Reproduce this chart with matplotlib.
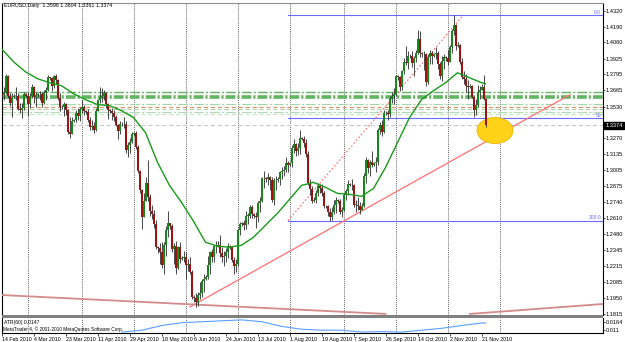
import datetime as dt
import numpy as np
import matplotlib
matplotlib.use("Agg")
import matplotlib.pyplot as plt
import matplotlib.transforms as mtrans
from matplotlib.patches import Ellipse, Rectangle

plt.rcParams["lines.scale_dashes"] = False
plt.rcParams["font.family"] = ["Liberation Sans", "DejaVu Sans"]

# EURUSD daily, broker with Sunday bars: Sun..Fri, 14 Feb 2010 -> 23 Nov 2010
FIRST_DAY = dt.date(2010, 2, 14)
FIRST_OPEN = 1.3630

closes = [
    1.3622, 1.3645, 1.3785, 1.3620, 1.3560, 1.3610,
    1.3615, 1.3620, 1.3510, 1.3500, 1.3520, 1.3630,
    1.3620, 1.3550, 1.3620, 1.3690, 1.3610, 1.3625,
    1.3630, 1.3630, 1.3560, 1.3645, 1.3670, 1.3770,
    1.3765, 1.3700, 1.3780, 1.3750, 1.3600, 1.3530,
    1.3525, 1.3550, 1.3500, 1.3320, 1.3300, 1.3410,
    1.3415, 1.3480, 1.3450, 1.3510, 1.3530, 1.3490,
    1.3485, 1.3420, 1.3360, 1.3370, 1.3340, 1.3490,
    1.3580, 1.3610, 1.3620, 1.3640, 1.3550, 1.3500,
    1.3495, 1.3480, 1.3440, 1.3380, 1.3330, 1.3390,
    1.3385, 1.3390, 1.3170, 1.3210, 1.3240, 1.3300,
    1.3310, 1.3200, 1.3000, 1.2840, 1.2620, 1.2750,
    1.2900, 1.2780, 1.2670, 1.2640, 1.2560, 1.2370,
    1.2360, 1.2330, 1.2220, 1.2390, 1.2510, 1.2570,
    1.2540, 1.2350, 1.2380, 1.2200, 1.2370, 1.2270,
    1.2280, 1.2290, 1.2220, 1.2230, 1.2160, 1.1960,
    1.1950, 1.1920, 1.1970, 1.1990, 1.2090, 1.2110,
    1.2120, 1.2220, 1.2330, 1.2290, 1.2380, 1.2380,
    1.2390, 1.2320, 1.2290, 1.2300, 1.2330, 1.2380,
    1.2370, 1.2260, 1.2210, 1.2230, 1.2510, 1.2560,
    1.2565, 1.2550, 1.2630, 1.2630, 1.2700, 1.2640,
    1.2630, 1.2620, 1.2730, 1.2750, 1.2940, 1.2940,
    1.2935, 1.2950, 1.2920, 1.2760, 1.2920, 1.2920,
    1.2930, 1.2990, 1.3000, 1.3010, 1.3060, 1.3050,
    1.3060, 1.3190, 1.3220, 1.3160, 1.3190, 1.3270,
    1.3265, 1.3230, 1.3140, 1.2900, 1.2850, 1.2750,
    1.2760, 1.2820, 1.2870, 1.2860, 1.2820, 1.2710,
    1.2705, 1.2660, 1.2620, 1.2660, 1.2720, 1.2760,
    1.2750, 1.2660, 1.2680, 1.2800, 1.2830, 1.2890,
    1.2885, 1.2880, 1.2720, 1.2720, 1.2710, 1.2680,
    1.2710, 1.2960, 1.3090, 1.3020, 1.3070, 1.3050,
    1.3060, 1.3070, 1.3340, 1.3380, 1.3320, 1.3480,
    1.3475, 1.3470, 1.3590, 1.3620, 1.3630, 1.3780,
    1.3770, 1.3690, 1.3820, 1.3900, 1.3890, 1.3950,
    1.3945, 1.3890, 1.3930, 1.3970, 1.4090, 1.3970,
    1.3960, 1.3960, 1.3730, 1.3940, 1.3970, 1.3950,
    1.3960, 1.3970, 1.3880, 1.3780, 1.3910, 1.3940,
    1.3930, 1.3900, 1.4020, 1.4150, 1.4200, 1.4030,
    1.4040, 1.3900, 1.3770, 1.3760, 1.3700, 1.3690,
    1.3700, 1.3610, 1.3500, 1.3540, 1.3650, 1.3670,
    1.3690, 1.3596, 1.3374,
]
highs = [
    1.3640, 1.3690, 1.3800, 1.3790, 1.3640, 1.3640,
    1.3630, 1.3690, 1.3640, 1.3560, 1.3560, 1.3650,
    1.3640, 1.3650, 1.3640, 1.3720, 1.3700, 1.3650,
    1.3640, 1.3660, 1.3650, 1.3670, 1.3690, 1.3790,
    1.3775, 1.3770, 1.3790, 1.3800, 1.3760, 1.3640,
    1.3540, 1.3570, 1.3560, 1.3510, 1.3440, 1.3440,
    1.3425, 1.3500, 1.3520, 1.3530, 1.3580, 1.3540,
    1.3500, 1.3510, 1.3440, 1.3420, 1.3400, 1.3520,
    1.3590, 1.3690, 1.3680, 1.3670, 1.3650, 1.3560,
    1.3510, 1.3520, 1.3500, 1.3460, 1.3390, 1.3410,
    1.3400, 1.3440, 1.3410, 1.3240, 1.3270, 1.3320,
    1.3320, 1.3330, 1.3210, 1.3010, 1.2850, 1.2820,
    1.2950, 1.3090, 1.2810, 1.2720, 1.2680, 1.2590,
    1.2380, 1.2400, 1.2410, 1.2410, 1.2540, 1.2670,
    1.2570, 1.2560, 1.2400, 1.2420, 1.2380, 1.2410,
    1.2300, 1.2340, 1.2330, 1.2270, 1.2290, 1.2180,
    1.1970, 1.1990, 1.2000, 1.2080, 1.2110, 1.2150,
    1.2140, 1.2300, 1.2340, 1.2350, 1.2390, 1.2420,
    1.2420, 1.2470, 1.2370, 1.2340, 1.2360, 1.2400,
    1.2390, 1.2380, 1.2290, 1.2270, 1.2530, 1.2580,
    1.2580, 1.2590, 1.2670, 1.2650, 1.2720, 1.2720,
    1.2650, 1.2660, 1.2750, 1.2780, 1.2950, 1.3000,
    1.2950, 1.2980, 1.2960, 1.2950, 1.2940, 1.2960,
    1.2950, 1.3000, 1.3030, 1.3040, 1.3110, 1.3080,
    1.3070, 1.3210, 1.3260, 1.3230, 1.3230, 1.3333,
    1.3280, 1.3290, 1.3260, 1.3160, 1.2930, 1.2870,
    1.2780, 1.2840, 1.2900, 1.2890, 1.2890, 1.2830,
    1.2720, 1.2720, 1.2690, 1.2700, 1.2760, 1.2780,
    1.2770, 1.2770, 1.2700, 1.2820, 1.2850, 1.2920,
    1.2900, 1.2930, 1.2890, 1.2760, 1.2780, 1.2740,
    1.2730, 1.2980, 1.3110, 1.3100, 1.3090, 1.3160,
    1.3070, 1.3110, 1.3350, 1.3400, 1.3420, 1.3500,
    1.3490, 1.3500, 1.3620, 1.3650, 1.3680, 1.3790,
    1.3790, 1.3780, 1.3830, 1.3930, 1.4030, 1.3990,
    1.3960, 1.3990, 1.3950, 1.4000, 1.4160, 1.4157,
    1.3980, 1.3990, 1.3970, 1.3960, 1.4000, 1.3990,
    1.3970, 1.4020, 1.3990, 1.3900, 1.3950, 1.3960,
    1.3950, 1.4000, 1.4040, 1.4170, 1.4282, 1.4210,
    1.4060, 1.4050, 1.3930, 1.3820, 1.3800, 1.3750,
    1.3720, 1.3710, 1.3620, 1.3590, 1.3710, 1.3700,
    1.3720, 1.3787, 1.3604,
]
lows = [
    1.3605, 1.3580, 1.3630, 1.3600, 1.3535, 1.3445,
    1.3600, 1.3580, 1.3500, 1.3480, 1.3435, 1.3500,
    1.3605, 1.3450, 1.3520, 1.3600, 1.3560, 1.3530,
    1.3610, 1.3580, 1.3530, 1.3550, 1.3580, 1.3660,
    1.3750, 1.3660, 1.3680, 1.3720, 1.3580, 1.3490,
    1.3510, 1.3450, 1.3460, 1.3300, 1.3267, 1.3300,
    1.3400, 1.3400, 1.3420, 1.3410, 1.3480, 1.3460,
    1.3470, 1.3400, 1.3340, 1.3340, 1.3310, 1.3330,
    1.3500, 1.3560, 1.3570, 1.3580, 1.3520, 1.3430,
    1.3480, 1.3420, 1.3410, 1.3370, 1.3260, 1.3300,
    1.3370, 1.3350, 1.3150, 1.3110, 1.3150, 1.3230,
    1.3290, 1.3180, 1.2980, 1.2820, 1.2520, 1.2620,
    1.2780, 1.2750, 1.2630, 1.2600, 1.2530, 1.2350,
    1.2320, 1.2230, 1.2200, 1.2145, 1.2300, 1.2450,
    1.2520, 1.2330, 1.2230, 1.2150, 1.2190, 1.2240,
    1.2260, 1.2250, 1.2110, 1.2170, 1.2150, 1.1940,
    1.1920, 1.1876, 1.1880, 1.1940, 1.1960, 1.2000,
    1.2100, 1.2110, 1.2150, 1.2250, 1.2250, 1.2320,
    1.2370, 1.2290, 1.2250, 1.2210, 1.2250, 1.2280,
    1.2350, 1.2250, 1.2150, 1.2160, 1.2210, 1.2470,
    1.2540, 1.2510, 1.2520, 1.2560, 1.2610, 1.2610,
    1.2610, 1.2530, 1.2580, 1.2660, 1.2740, 1.2860,
    1.2910, 1.2880, 1.2840, 1.2740, 1.2720, 1.2840,
    1.2910, 1.2880, 1.2930, 1.2960, 1.2990, 1.2990,
    1.3040, 1.3030, 1.3150, 1.3120, 1.3130, 1.3140,
    1.3250, 1.3200, 1.3110, 1.2880, 1.2800, 1.2730,
    1.2740, 1.2730, 1.2790, 1.2820, 1.2790, 1.2690,
    1.2690, 1.2630, 1.2588, 1.2590, 1.2640, 1.2650,
    1.2730, 1.2640, 1.2620, 1.2670, 1.2760, 1.2800,
    1.2870, 1.2840, 1.2700, 1.2660, 1.2680, 1.2640,
    1.2690, 1.2700, 1.2900, 1.2980, 1.2960, 1.3030,
    1.3040, 1.2990, 1.3050, 1.3300, 1.3290, 1.3310,
    1.3460, 1.3420, 1.3440, 1.3560, 1.3550, 1.3620,
    1.3750, 1.3660, 1.3670, 1.3800, 1.3870, 1.3840,
    1.3930, 1.3860, 1.3780, 1.3900, 1.3960, 1.3940,
    1.3940, 1.3830, 1.3698, 1.3720, 1.3880, 1.3880,
    1.3940, 1.3920, 1.3840, 1.3760, 1.3740, 1.3840,
    1.3910, 1.3870, 1.3900, 1.3970, 1.4120, 1.4000,
    1.4020, 1.3880, 1.3760, 1.3720, 1.3650, 1.3590,
    1.3680, 1.3600, 1.3446, 1.3460, 1.3530, 1.3590,
    1.3670, 1.3580, 1.3361,
]

# green moving average (+ last bar)
ma_bars = list(range(0, 241, 6)) + [242]
ma_vals = [
    1.4007, 1.3900, 1.3817, 1.3760, 1.3727, 1.3702, 1.3636, 1.3587, 1.3546, 1.3538,
    1.3496, 1.3439, 1.3315, 1.3069, 1.2879, 1.2739, 1.2583, 1.2410, 1.2377, 1.2369,
    1.2385, 1.2451, 1.2550, 1.2649, 1.2764, 1.2879, 1.2904, 1.2863, 1.2813, 1.2805,
    1.2789, 1.2854, 1.3027, 1.3233, 1.3439, 1.3587, 1.3661, 1.3727, 1.3809, 1.3768,
    1.3727, 1.3719,
]

# ATR(60) sub window
atr_bars = list(range(60, 241, 10)) + [242]
atr_vals = [
    0.0098, 0.0110, 0.0140, 0.0158, 0.0164, 0.0170, 0.0176, 0.0164, 0.0134, 0.0116,
    0.0110, 0.0110, 0.0098, 0.0101, 0.0098, 0.0110, 0.0122, 0.0140, 0.0156, 0.0156,
]

price_ticks = [1.4320, 1.4190, 1.4060, 1.3925, 1.3795, 1.3665, 1.3530, 1.3270, 1.3135,
               1.3005, 1.2875, 1.2740, 1.2610, 1.2480, 1.2345, 1.2215, 1.2085, 1.1950, 1.1815]
atr_ticks = [0.0164, 0.0110]
atr_tick_labels = ["0.0164", "0.011"]

date_labels = ["2010-02-14", "2010-03-04", "2010-03-23", "2010-04-11", "2010-04-29",
               "2010-05-18", "2010-06-06", "2010-06-24", "2010-07-13", "2010-08-01",
               "2010-08-19", "2010-09-07", "2010-09-26", "2010-10-14", "2010-11-02",
               "2010-11-21"]
grid_dates = ["2010-03-01", "2010-04-01", "2010-05-01", "2010-06-01", "2010-07-01",
              "2010-08-01", "2010-09-01", "2010-10-01", "2010-11-01", "2010-12-01"]

# horizontal support / resistance lines
level_prices = [1.3653, 1.3612, 1.3554, 1.3529, 1.3509, 1.3488, 1.3468]
bid_price = 1.3374
fib_low, fib_high = 1.2588, 1.4282
fib_bars = [143.25, 230.75]
fib_labels = ["0.0", "50", "100.0"]
trend_up_bars, trend_up_prices = [94.25, 284.25], [1.1876, 1.3628]
long_down_bars, long_down_prices = [0, 192], [1.1974, 1.1818]
long_up_bars, long_up_prices = [234.25, 300.75], [1.1818, 1.1900]
circle_bar, circle_price = 246.75, 1.3332

W, H = 625, 342


def box(x0, y0, x1, y1):
    return [x0 / W, 1 - y1 / H, (x1 - x0) / W, (y1 - y0) / H]


def bar_of(day):
    w, r = divmod((dt.date.fromisoformat(day) - FIRST_DAY).days, 7)
    if r == 6:  # saturday -> next sunday bar
        return (w + 1) * 6
    return w * 6 + r


fig = plt.figure(figsize=(6.25, 3.42), dpi=100)
ax = fig.add_axes(box(2, 3, 603, 315))
axa = fig.add_axes(box(2, 318, 603, 333))
XMIN, XMAX = 0.25, 300.75

# candles
n = len(closes)
idx = np.arange(n)
c = np.array(closes)
o = np.array([FIRST_OPEN] + closes[:-1])
h = np.maximum(np.array(highs), np.maximum(o, c))
l = np.minimum(np.array(lows), np.minimum(o, c))
up = c >= o
bot = np.minimum(o, c)
hgt = np.maximum(np.abs(c - o), 0.0003)
ax.vlines(idx, l, h, color="#2a2a2a", lw=0.6, zorder=5)
ax.bar(idx[up], hgt[up], bottom=bot[up], width=1.0, color="#138a18",
       edgecolor="none", zorder=6)
ax.bar(idx[~up], hgt[~up], bottom=bot[~up], width=1.0, color="#a01212",
       edgecolor="none", zorder=6)

ax.plot(ma_bars, ma_vals, color="#1a9a1a", lw=1.0, zorder=7)

# horizontal levels
dashdot = (0, (7, 1.5, 1.5, 1.5))
level_styles = [("#62b462", 1.0, dashdot), ("#62b462", 2.6, dashdot),
                ("#a6d4a6", 0.8, dashdot), ("#e58c68", 0.8, (0, (3, 2))),
                ("#a6d4a6", 0.8, (0, (3, 2))), ("#b2dab2", 0.8, dashdot),
                ("#c4e4c4", 0.8, (0, (3, 2)))]
for p, (col, lw, ls) in zip(level_prices, level_styles):
    ax.axhline(p, color=col, lw=lw, ls=ls, zorder=2)
ax.axhline(bid_price, color="#c8c8c8", lw=0.8, ls=(0, (3, 2)), zorder=2)

# fibonacci
fib_levels = [fib_high, (fib_high + fib_low) / 2, fib_low]
for p, lab in zip(fib_levels, fib_labels):
    ax.plot([fib_bars[0], XMAX], [p, p], color="#6a6aff", lw=0.8, zorder=3)
    ax.text(XMAX - 1.0, p + 0.0004, lab, color="#6a6aff", fontsize=3.6,
            ha="right", va="bottom", zorder=8)
ax.plot(fib_bars, [fib_low, fib_high], color="#ff6a6a", lw=0.8, ls=(0, (1.2, 1.5)), zorder=3)

# trend lines
ax.plot(trend_up_bars, trend_up_prices, color="#ff7070", lw=0.9, zorder=3)
ax.plot(long_down_bars, long_down_prices, color="#d48a8a", lw=1.3, zorder=3)
ax.plot(long_up_bars, long_up_prices, color="#d48a8a", lw=1.3, zorder=3)

ax.add_patch(Ellipse((circle_bar, circle_price), 18, 0.0214, facecolor="#ffd21a",
                     edgecolor="#e8b400", lw=0.6, zorder=4))

# ATR window
axa.plot(atr_bars, atr_vals, color="#5aa0ff", lw=0.8)
axa.set_ylim(0.0092, 0.0188)

for a in (ax, axa):
    a.set_xlim(XMIN, XMAX)
    for d in grid_dates:
        a.axvline(bar_of(d), color="#707070", lw=0.72, ls=(0, (0.75, 0.75)), zorder=1)
    a.yaxis.tick_right()
    a.tick_params(axis="y", labelsize=4.1, length=1.5, width=0.5, pad=0.6, colors="black")
    for s in ("left", "right"):
        a.spines[s].set_color("black")
        a.spines[s].set_linewidth(0.8)

ax.set_ylim(1.1809, 1.4385)
ax.set_yticks(price_ticks)
ax.set_yticklabels(["%.4f" % t for t in price_ticks])
ax.set_xticks([])
ax.spines["top"].set_color("#909090")
ax.spines["bottom"].set_visible(False)

axa.set_yticks(atr_ticks)
axa.set_yticklabels(atr_tick_labels)
axa.spines["top"].set_visible(False)
lab_bars = [bar_of(d) for d in date_labels]
axa.set_xticks(lab_bars)
axa.set_xticklabels(["%d %s" % (dt.date.fromisoformat(d).day,
                                 dt.date.fromisoformat(d).strftime("%b %Y")) for d in date_labels])
axa.tick_params(axis="x", labelsize=3.8, length=2, width=0.5, pad=1)
for t in axa.get_xticklabels():
    t.set_ha("left")

# separator between windows
fig.add_artist(Rectangle((2 / W, 1 - 318 / H), 601 / W, 3 / H, transform=fig.transFigure,
                         facecolor="#808080", edgecolor="none"))

# current price box
tr = mtrans.blended_transform_factory(ax.transAxes, ax.transData)
ax.text(1.004, bid_price, "%.4f" % bid_price, transform=tr, color="white", fontsize=4.1,
        va="center", ha="left", zorder=10,
        bbox=dict(facecolor="black", edgecolor="black", pad=0.7))

fig.text(4 / W, 1 - 6 / H, "EURUSD,Daily  1.3596 1.3604 1.3361 1.3374", fontsize=3.8,
         va="center", ha="left")
fig.text(4 / W, 1 - 322.5 / H, "ATR(60) 0.0147", fontsize=3.6, va="center", ha="left")
fig.text(3 / W, 1 - 329.5 / H, "MetaTrader 4, \u00a9 2001-2010 MetaQuotes Software Corp.",
         fontsize=3.4, va="center", ha="left")

fig.savefig("out.png", dpi=100, facecolor="white")
